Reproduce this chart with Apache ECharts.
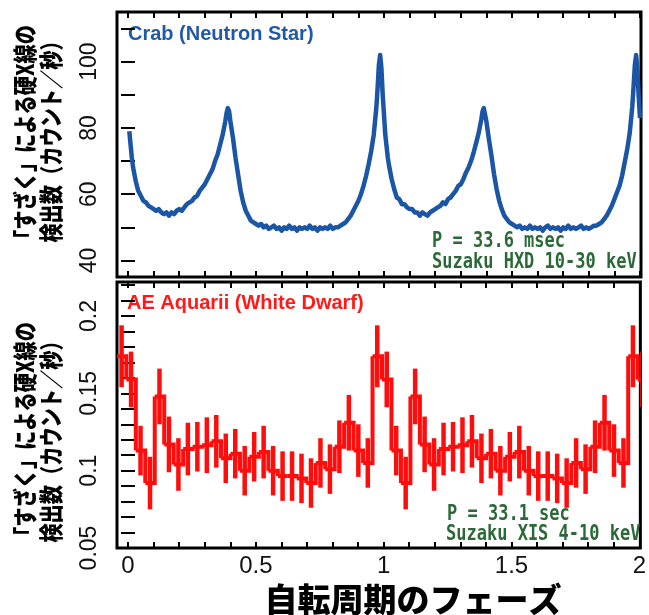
<!DOCTYPE html>
<html>
<head>
<meta charset="utf-8">
<script src="https://cdn.jsdelivr.net/npm/echarts@6/dist/echarts.min.js"></script>
<style>
html,body{margin:0;padding:0;background:#fff;}
#chart{width:649px;height:615px;}
</style>
</head>
<body>
<div id="chart"></div>
<script>
// ---- Top panel: Crab pulse profile (phase, count rate) ----
const crabPhase = [
0.005,0.01,0.015,0.02,0.03,0.04,0.05,0.06,0.07,0.08,0.09,0.10,0.11,0.12,0.13,0.14,0.15,0.16,0.17,0.18,0.19,
0.20,0.21,0.22,0.23,0.24,0.25,0.26,0.27,0.28,0.29,0.30,0.31,0.32,0.33,0.34,0.35,0.36,0.37,0.38,0.385,0.39,0.395,
0.40,0.41,0.42,0.43,0.44,0.45,0.46,0.47,0.48,0.49,0.50,0.51,0.52,0.53,0.54,0.55,0.56,0.57,0.58,0.59,
0.60,0.61,0.62,0.63,0.64,0.65,0.66,0.67,0.68,0.69,0.70,0.71,0.72,0.73,0.74,0.75,0.76,0.77,0.78,0.79,
0.80,0.81,0.82,0.83,0.84,0.85,0.86,0.87,0.88,0.89,0.90,0.91,0.92,0.93,0.94,0.95,0.96,0.97,0.975,0.98,0.985,0.99,0.995,
1.00,1.005,1.01,1.015,1.02,1.03,1.04,1.05,1.06,1.07,1.08,1.09,1.10,1.11,1.12,1.13,1.14,1.15,1.16,1.17,1.18,1.19,
1.20,1.21,1.22,1.23,1.24,1.25,1.26,1.27,1.28,1.29,1.30,1.31,1.32,1.33,1.34,1.35,1.36,1.37,1.38,1.385,1.39,1.395,
1.40,1.41,1.42,1.43,1.44,1.45,1.46,1.47,1.48,1.49,1.50,1.51,1.52,1.53,1.54,1.55,1.56,1.57,1.58,1.59,
1.60,1.61,1.62,1.63,1.64,1.65,1.66,1.67,1.68,1.69,1.70,1.71,1.72,1.73,1.74,1.75,1.76,1.77,1.78,1.79,
1.80,1.81,1.82,1.83,1.84,1.85,1.86,1.87,1.88,1.89,1.90,1.91,1.92,1.93,1.94,1.95,1.96,1.97,1.975,1.98,1.985,1.99,1.995,2.00
];
const crabRate = [
79,75,71,68,64,61,59.5,58,57.5,56.5,56,55.5,55,55.5,54.5,54,54.5,53.5,54.5,54,55,
55.5,55,56,57,57.5,58,59,59.5,61,62,63,64.5,66,67.5,70,72,75,78,82,84.5,86,85,
82,77,71,66,61,57.5,55,53.5,52,51.5,51,50.5,51,50,50.5,49.5,50,50.5,49.5,50,
49,50,49.5,50.5,49.5,50,49,50,49.5,50,49.5,50.5,49.5,50,49,50,49.5,50,49.5,50.5,
49.5,50,50,50.5,51,51.5,52.5,53.5,55,56.5,58,60,62.5,65.5,69,73,78,86,92,99,102,98,90,
84,78,74.5,71,68.5,64.5,61.5,59,58.5,57,57,56,55.5,55.5,54.5,54.5,53.5,54.5,54,53.5,54.5,55,
55.5,56,56.5,57.5,57,58.5,59,60,61,62.5,63,64.5,66.5,68,70,72.5,75.5,78.5,82.5,85,86,85.5,
82,76.5,71.5,66,61.5,58,55.5,53.5,52.5,51.5,51,50.5,50,50.5,49.5,50,49.5,50.5,49.5,50,
49.5,50,49,50,50.5,49.5,50,49.5,50,49,50,49.5,50.5,49.5,50,49.5,50,50.5,49.5,50,
49.5,50,50.5,50.5,51,51.5,52.5,53.5,55,56.5,58.5,60.5,62.5,65.5,69.5,73.5,78.5,86.5,92.5,99,102,97.5,89.5,83
];

// ---- Bottom panel: AE Aquarii folded light curve (56 phase bins) ----
const aeFirstBinCenter = -0.025;
const aeBinWidth = 1 / 27;
const aeRate = [
0.174,0.159,0.113,0.092,0.148,0.117,0.104,0.114,0.1155,0.1165,0.119,0.108,0.111,0.100,0.109,0.112,0.100,0.0965,0.0965,0.095,0.092,0.105,0.101,0.1155,0.131,0.113,0.105,
0.174,0.159,0.113,0.092,0.148,0.117,0.104,0.114,0.1155,0.1165,0.119,0.108,0.111,0.100,0.109,0.112,0.100,0.0965,0.0965,0.095,0.092,0.105,0.101,0.1155,0.131,0.113,0.105,
0.174,0.159
];
const aeErr = [
0.020,0.018,0.016,0.017,0.018,0.018,0.017,0.017,0.016,0.018,0.017,0.016,0.016,0.016,0.016,0.017,0.016,0.016,0.016,0.016,0.016,0.016,0.016,0.017,0.018,0.017,0.016,
0.020,0.018,0.016,0.017,0.018,0.018,0.017,0.017,0.016,0.018,0.017,0.016,0.016,0.016,0.016,0.017,0.016,0.016,0.016,0.016,0.016,0.016,0.016,0.017,0.018,0.017,0.016,
0.020,0.018
];

// ---- Tick values / labels ----
const phaseTicks = [0,0.1,0.2,0.3,0.4,0.5,0.6,0.7,0.8,0.9,1.0,1.1,1.2,1.3,1.4,1.5,1.6,1.7,1.8,1.9,2.0];
const phaseLabels = [0,0.5,1,1.5,2];
const crabTicks = [40,50,60,70,80,90,100,110];
const crabLabels = [40,60,80,100];
const aeTicks = [0.06,0.07,0.08,0.09,0.10,0.11,0.12,0.13,0.14,0.15,0.16,0.17,0.18,0.19,0.20,0.21,0.22];
const aeLabels = [0.05,0.1,0.15,0.2];

const yTitle1 = '「すざく」による硬X線の';
const yTitle2 = '検出数（カウント／秒）';
const xTitle = '自転周期のフェーズ';

const crabData = crabPhase.map((p, i) => [p, crabRate[i]]);
const aeData = aeRate.map((v, i) => [
  aeFirstBinCenter + i * aeBinWidth, v, aeErr[i],
  i < aeRate.length - 1 ? aeRate[i + 1] : v
]);

const chart = echarts.init(document.getElementById('chart'), null, {renderer: 'canvas'});

const tickStyle = {color: '#000', width: 2};
function xAx(grid, pos, labels) {
  return {
    type: 'value', gridIndex: grid, position: pos, min: -0.043, max: 2.004,
    axisLine: {show: false}, splitLine: {show: false},
    axisTick: {show: true, inside: true, length: 6, customValues: phaseTicks, lineStyle: tickStyle},
    axisLabel: labels ? {show: true, customValues: phaseLabels, margin: 6, fontSize: 24,
      fontFamily: 'Liberation Sans, Arial, sans-serif', color: '#111'} : {show: false}
  };
}
function yAx(grid, pos, min, max, ticks, labels) {
  return {
    type: 'value', gridIndex: grid, position: pos, min: min, max: max,
    axisLine: {show: false}, splitLine: {show: false},
    axisTick: {show: true, inside: true, length: 7, customValues: ticks, lineStyle: tickStyle},
    axisLabel: labels ? {show: true, customValues: labels, rotate: 90, margin: 16, fontSize: 23,
      fontFamily: 'Liberation Sans, Arial, sans-serif', color: '#111'} : {show: false}
  };
}

const jpFont = '900 24px "Noto Sans CJK JP", sans-serif';
const monoFont = 'bold 17px "DejaVu Sans Mono", monospace';
const green = '#2b6a38';
function yTitle(text, x, y) {
  return {type: 'text', x: x, y: y, rotation: Math.PI / 2, scaleX: 0.8,
    style: {text: text, fill: '#000', font: jpFont, align: 'center', verticalAlign: 'middle'}};
}
function note(text, x, y) {
  return {type: 'text', x: x, y: y, scaleY: 1.2,
    style: {text: text, fill: green, font: monoFont, align: 'left', verticalAlign: 'middle'}};
}

const option = {
  backgroundColor: '#fff',
  animation: false,
  grid: [
    {left: 117, top: 12, width: 524, height: 265, show: true, borderColor: '#000', borderWidth: 3, backgroundColor: '#fff'},
    {left: 117, top: 282, width: 524, height: 266, show: true, borderColor: '#000', borderWidth: 3, backgroundColor: '#fff'}
  ],
  xAxis: [xAx(0, 'bottom', false), xAx(0, 'top', false), xAx(1, 'bottom', true), xAx(1, 'top', false)],
  yAxis: [
    yAx(0, 'left', 35, 115, crabTicks, crabLabels),
    yAx(0, 'right', 35, 115, crabTicks, null),
    yAx(1, 'left', 0.05, 0.222, aeTicks, aeLabels),
    yAx(1, 'right', 0.05, 0.222, aeTicks, null)
  ],
  series: [
    {
      type: 'line', xAxisIndex: 0, yAxisIndex: 0, data: crabData,
      showSymbol: false, symbol: 'none', smooth: false,
      lineStyle: {color: '#1b56a6', width: 4.5, join: 'round'}, z: 3
    },
    {
      type: 'custom', xAxisIndex: 2, yAxisIndex: 2, data: aeData, clip: true, z: 3,
      renderItem: function (params, api) {
        const c = api.value(0), v = api.value(1), e = api.value(2), nv = api.value(3);
        const pL = api.coord([c - aeBinWidth / 2, v]);
        const pR = api.coord([c + aeBinWidth / 2, v]);
        const pN = api.coord([c + aeBinWidth / 2, nv]);
        const pT = api.coord([c, v + e]);
        const pB = api.coord([c, v - e]);
        return {
          type: 'group',
          children: [
            {type: 'polyline', shape: {points: [pL, pR, pN]}, style: {stroke: '#ff0d0d', lineWidth: 4, fill: null}},
            {type: 'line', shape: {x1: pT[0], y1: pT[1], x2: pB[0], y2: pB[1]}, style: {stroke: '#ff0d0d', lineWidth: 4.5}}
          ]
        };
      }
    }
  ],
  graphic: [
    {type: 'text', left: 128, top: 24, style: {text: 'Crab (Neutron Star)', fill: '#1f5aa8',
      font: 'bold 20px "Liberation Sans", Arial, sans-serif'}},
    {type: 'text', left: 127, top: 293, style: {text: 'AE Aquarii (White Dwarf)', fill: '#ff1a1a',
      font: 'bold 20px "Liberation Sans", Arial, sans-serif'}},
    note('P = 33.6 msec', 432, 242),
    note('Suzaku HXD 10-30 keV', 432, 263),
    note('P = 33.1 sec', 447, 515),
    note('Suzaku XIS 4-10 keV', 446, 535),
    yTitle(yTitle1, 25, 137),
    yTitle(yTitle2, 51, 137),
    yTitle(yTitle1, 25, 434),
    yTitle(yTitle2, 51, 437),
    {type: 'text', x: 413, y: 599, style: {text: xTitle, fill: '#000',
      font: '900 33px "Noto Sans CJK JP", sans-serif', align: 'center', verticalAlign: 'middle'}}
  ]
};
chart.setOption(option);
</script>
</body>
</html>
